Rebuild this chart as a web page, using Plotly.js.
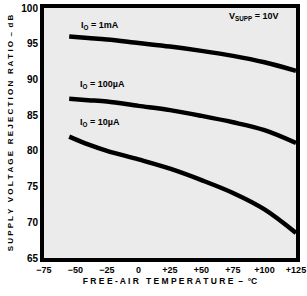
<!DOCTYPE html>
<html>
<head>
<meta charset="utf-8">
<script src="https://cdn.plot.ly/plotly-3.0.1.min.js"></script>
<style>html,body{margin:0;padding:0;background:#fff;}#chart{width:307px;height:296px;}</style>
</head>
<body>
<div id="chart"></div>
<script>
const temps = [-55, -40, -25, 0, 25, 50, 75, 100, 125];
const psrr_1mA = [96.0, 95.8, 95.6, 95.1, 94.6, 94.0, 93.3, 92.4, 91.2];
const psrr_100uA = [87.3, 87.1, 86.9, 86.3, 85.7, 84.9, 84.0, 82.9, 81.1];
const psrr_10uA = [82.0, 80.9, 80.0, 78.8, 77.5, 75.9, 74.1, 71.8, 68.5];
const xTickVals = [-75, -50, -25, 0, 25, 50, 75, 100, 125];
const xTickText = ['\u221275', '\u221250', '\u221225', '0', '+25', '+50', '+75', '+100', '+125'];
const yTickVals = [65, 70, 75, 80, 85, 90, 95, 100];

const lineStyle = {color: '#000', width: 4.5, shape: 'spline', smoothing: 1};
const traces = [
  {x: temps, y: psrr_1mA, mode: 'lines', line: lineStyle, hoverinfo: 'skip'},
  {x: temps, y: psrr_100uA, mode: 'lines', line: lineStyle, hoverinfo: 'skip'},
  {x: temps, y: psrr_10uA, mode: 'lines', line: lineStyle, hoverinfo: 'skip'}
];
const fam = 'Liberation Sans, Arial, sans-serif';
const layout = {
  width: 307, height: 296,
  margin: {l: 44, r: 11, t: 8, b: 38},
  paper_bgcolor: '#fff',
  plot_bgcolor: '#ebebeb',
  showlegend: false,
  font: {family: fam, size: 9, color: '#000'},
  xaxis: {
    range: [-75, 125], tickvals: xTickVals, ticktext: xTickText,
    showgrid: false, zeroline: false, ticks: '',
    showline: true, mirror: true, linewidth: 4, linecolor: '#000',
    tickfont: {family: fam, size: 9, color: '#000', weight: 'bold'},
    title: {text: 'F R E E - A I R   T E M P E R A T U R E  \u2013  \u00b0C', font: {family: fam, size: 8.5, color: '#000', weight: 'bold'}, standoff: 5}
  },
  yaxis: {
    range: [65, 100], tickvals: yTickVals,
    showgrid: false, zeroline: false, ticks: '',
    showline: true, mirror: true, linewidth: 4, linecolor: '#000',
    tickfont: {family: fam, size: 10, color: '#000', weight: 'bold'},
    title: {text: 'S U P P L Y   V O L T A G E   R E J E C T I O N   R A T I O  \u2013  d B', font: {family: fam, size: 8, color: '#000', weight: 'bold'}, standoff: 8}
  },
  annotations: [
    {x: -47, y: 97.6, xref: 'x', yref: 'y', xanchor: 'left', showarrow: false, text: 'I<sub>O</sub> = 1mA', font: {family: fam, size: 9, color: '#000', weight: 'bold'}},
    {x: 70, y: 98.8, xref: 'x', yref: 'y', xanchor: 'left', showarrow: false, text: 'V<sub>SUPP</sub> = 10V', font: {family: fam, size: 9, color: '#000', weight: 'bold'}},
    {x: -48, y: 89.3, xref: 'x', yref: 'y', xanchor: 'left', showarrow: false, text: 'I<sub>O</sub> = 100\u00b5A', font: {family: fam, size: 9, color: '#000', weight: 'bold'}},
    {x: -48, y: 84.0, xref: 'x', yref: 'y', xanchor: 'left', showarrow: false, text: 'I<sub>O</sub> = 10\u00b5A', font: {family: fam, size: 9, color: '#000', weight: 'bold'}}
  ]
};
Plotly.newPlot('chart', traces, layout, {displayModeBar: false, staticPlot: true});
</script>
</body>
</html>
